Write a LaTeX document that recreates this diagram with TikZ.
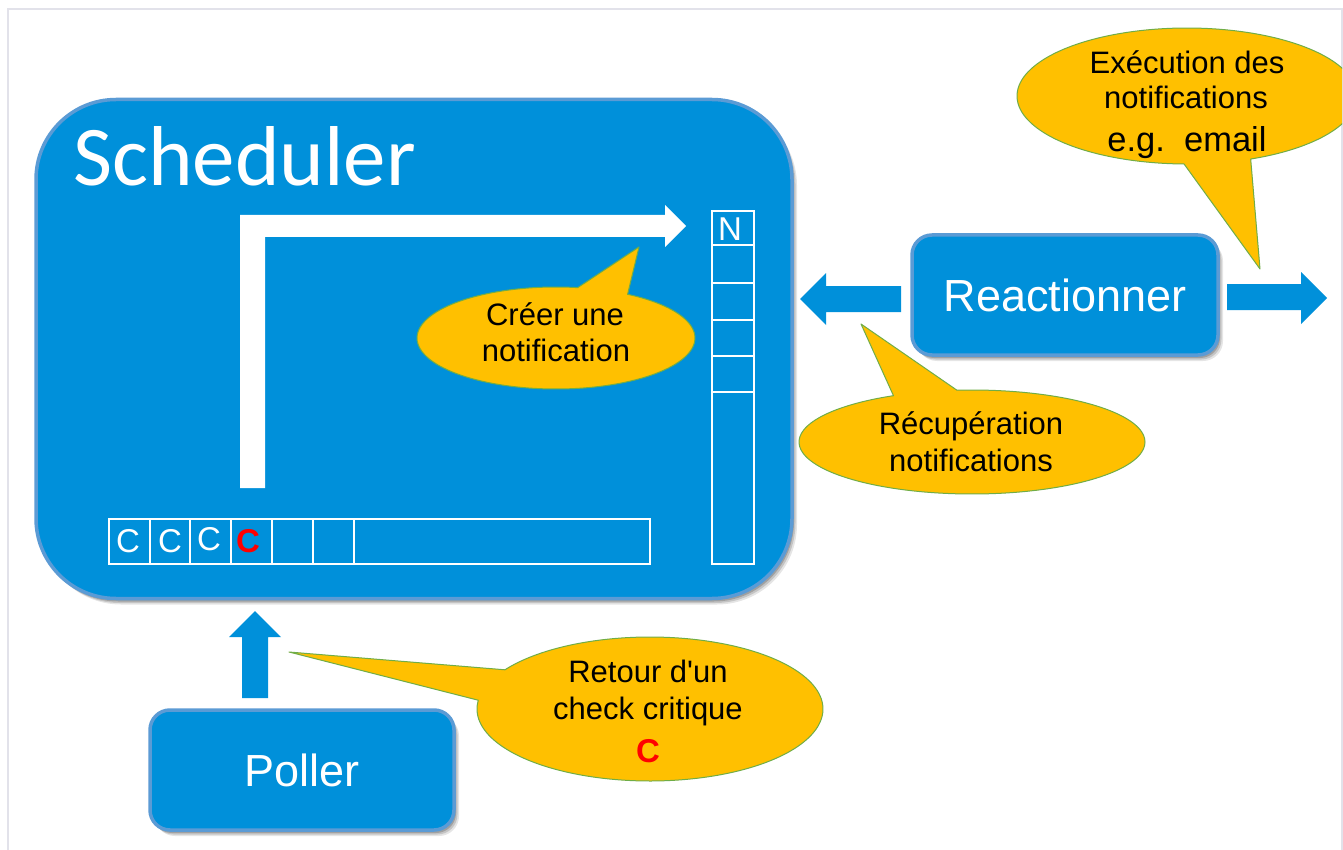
\documentclass[tikz,border=0pt]{standalone}
\usepackage{fontspec}
\setmainfont{Liberation Sans}[Ligatures=TeXOff]
\newfontfamily\titlefont{Carlito}
\usetikzlibrary{shadows,calc}
\definecolor{boxblue}{HTML}{0090DA}
\definecolor{boxedge}{HTML}{5B9BD5}
\definecolor{gold}{HTML}{FFC000}
\definecolor{goldedge}{HTML}{70AD47}
\definecolor{frameline}{HTML}{E2E2EA}
\tikzset{
  softshadow/.style={
    drop shadow={shadow xshift=5pt,shadow yshift=-6pt,opacity=.10,fill=black},
    drop shadow={shadow xshift=3.5pt,shadow yshift=-4.5pt,opacity=.14,fill=black},
    drop shadow={shadow xshift=2pt,shadow yshift=-3pt,opacity=.18,fill=black}},
  bluebox/.style={draw=boxedge,fill=boxblue,line width=3.5pt,rounded corners=#1,softshadow,text=white,align=center},
  blockarrow/.style={fill=boxblue,draw=none},
  whitearrow/.style={fill=white,draw=none},
  queue/.style={draw=white,line width=2.4pt},
  bubble/.style={draw=goldedge,fill=gold,line width=1pt,line join=round},
  bubbletext/.style={text=black,font=\fontsize{31}{31}\selectfont,inner sep=0pt,anchor=center},
  cell/.style={text=white,font=\fontsize{33}{33}\selectfont,inner sep=0pt,anchor=center},
  redcell/.style={text=red,font=\bfseries\fontsize{33}{33}\selectfont,inner sep=0pt,anchor=center},
}
% centre x, centre y, radius x, radius y, start, end, tip x, tip y
\newcommand{\bubbleshape}[8]{%
  \draw[bubble] (#7,#8) -- plot[domain=#5:#6,samples=90,smooth] ({#1+#3*cos(\x)},{#2+#4*sin(\x)}) -- cycle;%
}
\begin{document}
\begin{tikzpicture}[x=1pt,y=-1pt]
\useasboundingbox (0,0) rectangle (1343,850);
\fill[white] (0,0) rectangle (1343,850);
% page frame
\draw[frameline,line width=2pt] (8,850) -- (8,9) -- (1342,9) -- (1342,850);

% main boxes
\node[bluebox=80pt,minimum width=756pt,minimum height=499pt,inner sep=0pt] (scheduler) at (414,349) {};
\node[text=white,font=\titlefont\fontsize{85}{85}\selectfont,inner sep=0pt,anchor=base west] (schedtitle) at (73,185.5) {Scheduler};
\node[bluebox=20pt,minimum width=304pt,minimum height=120pt,font=\fontsize{45}{45}\selectfont,inner sep=0pt] (poller) at (302,770) {Poller};
\node[bluebox=20pt,minimum width=306pt,minimum height=120pt,font=\fontsize{45}{45}\selectfont,inner sep=0pt] (reactionner) at (1065,295) {Reactionner};

% white elbow arrow
\fill[whitearrow] (240,488) -- (240,215) -- (665,215) -- (665,205) -- (686,226) -- (665,247) -- (665,237) -- (265,237) -- (265,488) -- cycle;

% block arrows
\fill[blockarrow] (242,698) -- (242,637) -- (229,637) -- (255,611) -- (281,637) -- (268,637) -- (268,698) -- cycle;
\fill[blockarrow] (901,286) -- (826,286) -- (826,273) -- (800,299) -- (826,325) -- (826,312) -- (901,312) -- cycle;
\fill[blockarrow] (1227,284) -- (1301,284) -- (1301,272) -- (1327,298) -- (1301,324) -- (1301,310) -- (1227,310) -- cycle;

% horizontal queue
\draw[queue] (109,519) rectangle (650,564);
\foreach \xx in {150,190,231,272,313,354} \draw[queue] (\xx,519) -- (\xx,564);
\node[cell] (c1) at (128,541) {C};
\node[cell] (c2) at (170,541) {C};
\node[cell] (c3) at (209,539) {C};
\node[redcell] (c4) at (248,541) {C};

% vertical queue
\draw[queue] (712,211) rectangle (754,564);
\foreach \yy in {245,283,320,356,392} \draw[queue] (712,\yy) -- (754,\yy);
\node[cell] (n1) at (730,229) {N};

% callouts
\bubbleshape{556}{338}{139}{51}{-59}{279}{639}{247}
\node[bubbletext] (creer) at (555,314) {Créer une};
\node[bubbletext] (creerb) at (556,350) {notification};

\bubbleshape{972}{442}{173}{52}{265}{603}{861}{324}
\node[bubbletext] (recup) at (971,426) {Récupération};
\node[bubbletext] (recupb) at (971,460) {notifications};

\bubbleshape{650}{709}{173}{72}{213}{547}{289}{652}
\node[bubbletext] (retour) at (648,671) {Retour d'un};
\node[bubbletext] (check) at (648,711) {check critique};
\node[redcell] (c5) at (648,751) {C};

\begin{scope}
\clip (0,0) rectangle (1342,850);
\bubbleshape{1187}{96}{170}{68}{91}{428}{1260}{269}
\end{scope}
\node[bubbletext] (exec) at (1187,62) {Exécution des};
\node[bubbletext] (notif) at (1186,97) {notifications};
\node[bubbletext,font=\fontsize{34.5}{34.5}\selectfont] (email) at (1187,143) {e.g.\ \ email};
\end{tikzpicture}
\end{document}
